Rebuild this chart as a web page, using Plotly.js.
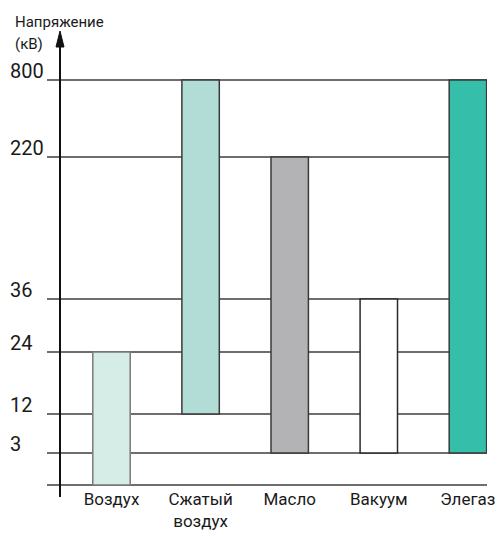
<!DOCTYPE html>
<html>
<head>
<meta charset="utf-8">
<script src="https://cdn.plot.ly/plotly-3.0.1.min.js"></script>
<style>html,body{margin:0;padding:0;background:#fff;}#chart{width:499px;height:536px;}</style>
</head>
<body>
<div id="chart"></div>
<script>
// Data
const categories = ['Воздух', 'Сжатый<br>воздух', 'Масло', 'Вакуум', 'Элегаз'];
const lowKV  = [0, 12, 3, 3, 3];
const highKV = [24, 800, 220, 36, 800];
const tickLevels = [0, 3, 12, 24, 36, 220, 800];
const tickLabels = ['', '3', '12', '24', '36', '220', '800'];
const titleLines = ['Напряжение', '(кВ)'];

// Non-linear axis scale (kV level -> axis position)
const scaleLevels = [0, 3, 12, 24, 36, 220, 800];
const scalePos    = [0, 32, 71, 133, 186, 328, 405];
function pos(v) {
  for (let i = 0; i < scaleLevels.length - 1; i++) {
    if (v >= scaleLevels[i] && v <= scaleLevels[i + 1]) {
      const t = (v - scaleLevels[i]) / (scaleLevels[i + 1] - scaleLevels[i]);
      return scalePos[i] + t * (scalePos[i + 1] - scalePos[i]);
    }
  }
  return scalePos[scalePos.length - 1];
}

// Styles
const fillColors = ['#d6ede7', '#b1ddd6', '#b3b3b5', '#ffffff', '#35bea9'];
const lineColors = ['#7a7a7a', '#3a3a3a', '#3a3a3a', '#2a2a2a', '#3a3a3a'];
const FONT = 'Roboto, "Liberation Sans", Arial, sans-serif';

const xIdx = categories.map((_, i) => i);
const tickPos = tickLevels.map(pos);

const trace = {
  type: 'bar',
  x: xIdx,
  base: lowKV.map(pos),
  y: lowKV.map((lo, i) => pos(highKV[i]) - pos(lo)),
  width: 0.42,
  marker: { color: fillColors, line: { color: lineColors, width: 1.5 } },
  hoverinfo: 'skip'
};

const W = 499, H = 536;
const mL = 47, mR = 12, mT = 30, mB = 49;
const plotW = W - mL - mR, plotH = H - mT - mB;
const px2paperX = p => (p - mL) / plotW;
const px2paperY = p => (H - mB - p) / plotH;

const axisX = px2paperX(60);

const annotations = tickLevels.map((lv, i) => ({
  xref: 'paper', yref: 'y',
  x: px2paperX(8), y: pos(lv),
  xanchor: 'left', yanchor: 'bottom',
  yshift: -5,
  text: tickLabels[i], showarrow: false,
  font: { family: FONT, size: 20, color: '#1a1a1a' }
})).filter(a => a.text !== '');

titleLines.forEach((t, i) => annotations.push({
  xref: 'paper', yref: 'paper',
  x: px2paperX(13), y: px2paperY(11 + i * 22),
  xanchor: 'left', yanchor: 'top', align: 'left',
  text: t, showarrow: false,
  font: { family: FONT, size: 15, color: '#1a1a1a' }
}));

const shapes = [
  { type: 'line', xref: 'paper', yref: 'paper',
    x0: axisX, x1: axisX, y0: px2paperY(497), y1: px2paperY(44),
    line: { color: '#111', width: 2 } },
  { type: 'path', xref: 'paper', yref: 'paper',
    path: 'M ' + px2paperX(56) + ' ' + px2paperY(47) +
          ' L ' + px2paperX(60) + ' ' + px2paperY(31) +
          ' L ' + px2paperX(64) + ' ' + px2paperY(47) + ' Z',
    fillcolor: '#111', line: { color: '#111', width: 1 } }
];

const layout = {
  width: W, height: H,
  margin: { l: mL, r: mR, t: mT, b: mB, pad: 0 },
  paper_bgcolor: '#fff', plot_bgcolor: '#fff',
  showlegend: false,
  bargap: 0,
  xaxis: {
    range: [(mL - 111.5) / 89.1, (W - mR - 111.5) / 89.1],
    tickvals: xIdx, ticktext: categories,
    ticks: '', showgrid: false, zeroline: false, showline: false,
    tickfont: { family: FONT, size: 17, color: '#1a1a1a' },
    ticklabelstandoff: 0,
    ticklabeloverflow: 'allow',
    fixedrange: true
  },
  yaxis: {
    range: [-2, 455],
    tickvals: tickPos, showticklabels: false,
    ticks: '', showgrid: true, gridcolor: '#6e6e6e', gridwidth: 1.5,
    zeroline: false, showline: false, fixedrange: true
  },
  annotations: annotations,
  shapes: shapes
};

Plotly.newPlot('chart', [trace], layout, { staticPlot: true, displayModeBar: false });
</script>
</body>
</html>
